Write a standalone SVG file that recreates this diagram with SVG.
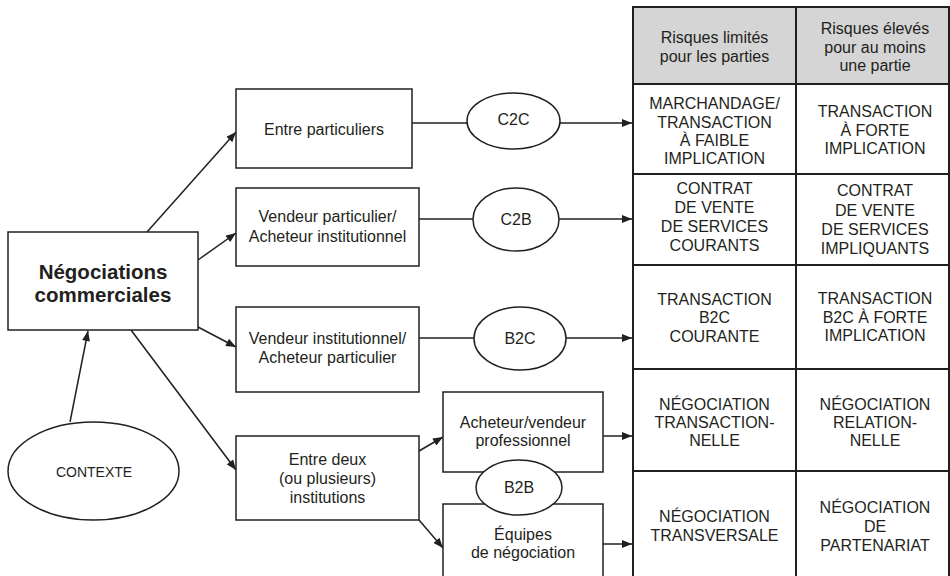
<svg xmlns="http://www.w3.org/2000/svg" width="950" height="576" viewBox="0 0 950 576">
<style>
.box{fill:#fff;stroke:#231f20;stroke-width:1.5}
.ell{fill:#fff;stroke:#231f20;stroke-width:1.5}
.tl{fill:none;stroke:#231f20;stroke-width:2}
.hdr{fill:#d5d5d5;stroke:none}
.ln{fill:none;stroke:#231f20;stroke-width:1.5}
.arr{fill:none;stroke:#231f20;stroke-width:1.5;marker-end:url(#ah)}
text{font-family:"Liberation Sans",Arial,Helvetica,sans-serif;font-size:16px;fill:#231f20;text-anchor:middle}
.big{font-size:20.5px;font-weight:bold}
.sm{font-size:14px}
</style>
<defs>
<marker id="ah" viewBox="0 0 10 8" refX="10" refY="4" markerWidth="11" markerHeight="8" markerUnits="userSpaceOnUse" orient="auto">
<path d="M0,0 L10,4 L0,8 Z" fill="#231f20"/>
</marker>
</defs>
<g id="table">
<rect class="hdr" x="633" y="7" width="316" height="77"/>
<path class="tl" d="M633,577 V7 H949 V577 M796,7 V577 M633,84 H949 M633,174 H949 M633,265 H949 M633,369 H949 M633,471 H949"/>
<text x="714.5" y="43">Risques limités</text>
<text x="714.5" y="62">pour les parties</text>
<text x="875" y="34">Risques élevés</text>
<text x="875" y="53">pour au moins</text>
<text x="875" y="71">une partie</text>
<text x="714.5" y="109">MARCHANDAGE/</text>
<text x="714.5" y="128">TRANSACTION</text>
<text x="714.5" y="146">À FAIBLE</text>
<text x="714.5" y="164">IMPLICATION</text>
<text x="875" y="117">TRANSACTION</text>
<text x="875" y="136">À FORTE</text>
<text x="875" y="154">IMPLICATION</text>
<text x="714.5" y="194">CONTRAT</text>
<text x="714.5" y="213">DE VENTE</text>
<text x="714.5" y="232">DE SERVICES</text>
<text x="714.5" y="251">COURANTS</text>
<text x="875" y="196">CONTRAT</text>
<text x="875" y="216">DE VENTE</text>
<text x="875" y="235">DE SERVICES</text>
<text x="875" y="254">IMPLIQUANTS</text>
<text x="714.5" y="305">TRANSACTION</text>
<text x="714.5" y="323">B2C</text>
<text x="714.5" y="342">COURANTE</text>
<text x="875" y="304">TRANSACTION</text>
<text x="875" y="323">B2C À FORTE</text>
<text x="875" y="341">IMPLICATION</text>
<text x="714.5" y="410">NÉGOCIATION</text>
<text x="714.5" y="428">TRANSACTION-</text>
<text x="714.5" y="446">NELLE</text>
<text x="875" y="410">NÉGOCIATION</text>
<text x="875" y="428">RELATION-</text>
<text x="875" y="446">NELLE</text>
<text x="714.5" y="522">NÉGOCIATION</text>
<text x="714.5" y="541">TRANSVERSALE</text>
<text x="875" y="513">NÉGOCIATION</text>
<text x="875" y="532">DE</text>
<text x="875" y="551">PARTENARIAT</text>
</g>
<g id="connectors">
<line class="arr" x1="147" y1="232" x2="236" y2="132"/>
<line class="arr" x1="198" y1="260" x2="236" y2="233"/>
<line class="arr" x1="198" y1="327" x2="236" y2="347"/>
<line class="arr" x1="131" y1="330" x2="236" y2="470"/>
<line class="arr" x1="70" y1="422" x2="88" y2="331"/>
<line class="arr" x1="419" y1="451" x2="443" y2="437"/>
<line class="arr" x1="419" y1="520" x2="443" y2="548"/>
<line class="ln" x1="412" y1="123" x2="468" y2="123"/>
<line class="arr" x1="560" y1="123" x2="632" y2="123"/>
<line class="ln" x1="419" y1="219" x2="474" y2="219"/>
<line class="arr" x1="559" y1="219" x2="632" y2="219"/>
<line class="ln" x1="419" y1="338" x2="475" y2="338"/>
<line class="arr" x1="566" y1="338" x2="632" y2="338"/>
<line class="arr" x1="603" y1="436" x2="632" y2="436"/>
<line class="arr" x1="603" y1="544" x2="632" y2="544"/>
</g>
<g id="negociations">
<rect class="box" x="8" y="232" width="190" height="98"/>
<text class="big" x="103" y="279">Négociations</text>
<text class="big" x="103" y="302">commerciales</text>
</g>
<g id="contexte">
<ellipse class="ell" cx="93.5" cy="471" rx="85.5" ry="49"/>
<text class="sm" x="94" y="477">CONTEXTE</text>
</g>
<g id="entre-particuliers">
<rect class="box" x="236" y="89" width="176" height="79"/>
<text x="324" y="135">Entre particuliers</text>
</g>
<g id="vendeur-particulier">
<rect class="box" x="236" y="188" width="183" height="78"/>
<text x="327.5" y="222">Vendeur particulier/</text>
<text x="327.5" y="242">Acheteur institutionnel</text>
</g>
<g id="vendeur-institutionnel">
<rect class="box" x="236" y="307" width="183" height="85"/>
<text x="327.5" y="344">Vendeur institutionnel/</text>
<text x="327.5" y="363">Acheteur particulier</text>
</g>
<g id="entre-institutions">
<rect class="box" x="236" y="436" width="183" height="84"/>
<text x="327.5" y="465">Entre deux</text>
<text x="327.5" y="484">(ou plusieurs)</text>
<text x="327.5" y="503">institutions</text>
</g>
<g id="acheteur-vendeur">
<rect class="box" x="443" y="392" width="160" height="80"/>
<text x="523" y="428">Acheteur/vendeur</text>
<text x="523" y="446">professionnel</text>
</g>
<g id="equipes">
<rect class="box" x="443" y="504" width="160" height="80"/>
<text x="523" y="540">Équipes</text>
<text x="523" y="558">de négociation</text>
</g>
<g id="c2c">
<ellipse class="ell" cx="513.5" cy="121" rx="46.5" ry="28"/>
<text x="513.5" y="125">C2C</text>
</g>
<g id="c2b">
<ellipse class="ell" cx="516" cy="219.5" rx="43" ry="31.5"/>
<text x="516" y="225">C2B</text>
</g>
<g id="b2c">
<ellipse class="ell" cx="520" cy="338.5" rx="46" ry="31.5"/>
<text x="520" y="344">B2C</text>
</g>
<g id="b2b">
<ellipse class="ell" cx="519" cy="487.5" rx="43" ry="27.5"/>
<text x="519" y="493">B2B</text>
</g>
</svg>
